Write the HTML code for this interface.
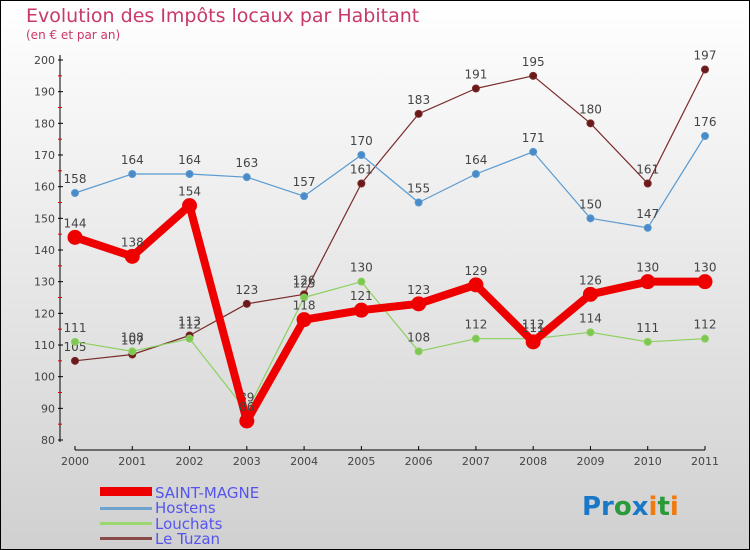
<!DOCTYPE html>
<html><head><meta charset="utf-8"><style>
body{margin:0}
svg{display:block;font-family:"DejaVu Sans","Liberation Sans",sans-serif}
</style></head><body>
<svg id="c" width="750" height="550" xmlns="http://www.w3.org/2000/svg">
<defs><linearGradient id="bg" x1="0" y1="0" x2="0" y2="1"><stop offset="0" stop-color="#ffffff"/><stop offset="1" stop-color="#d0d0d0"/></linearGradient></defs>
<rect x="0.5" y="0.5" width="749" height="549" fill="url(#bg)" stroke="#000"/>
<text x="26" y="22" font-size="19" fill="#c8386a">Evolution des Impôts locaux par Habitant</text>
<text x="26" y="39" font-size="12" fill="#c8386a">(en € et par an)</text>
<g id="axes"></g><g id="series"></g>
<g font-size="15" fill="#5555ee">
<rect x="100" y="487" width="52" height="9" fill="#e00"/>
<text x="155" y="498">SAINT-MAGNE</text>
<rect x="100" y="507" width="52" height="3" fill="#6fa3cf"/>
<text x="155" y="513">Hostens</text>
<rect x="100" y="522" width="52" height="3" fill="#9ad86e"/>
<text x="155" y="529">Louchats</text>
<rect x="100" y="537" width="52" height="3" fill="#8b4a4a"/>
<text x="155" y="544">Le Tuzan</text>
</g>
<text x="582" y="515" font-size="26" font-weight="bold"><tspan fill="#1a78c8">Pr</tspan><tspan fill="#2a9a3a">o</tspan><tspan fill="#1a78c8">x</tspan><tspan fill="#f07a10">i</tspan><tspan fill="#2a9a3a">t</tspan><tspan fill="#f07a10">i</tspan></text>
</svg>
<script>
const years=["2000","2001","2002","2003","2004","2005","2006","2007","2008","2009","2010","2011"];
const yTicks=[80,90,100,110,120,130,140,150,160,170,180,190,200];
const saintMagne=[144,138,154,86,118,121,123,129,111,126,130,130];
const hostens=[158,164,164,163,157,170,155,164,171,150,147,176];
const louchats=[111,108,112,89,125,130,108,112,112,114,111,112];
const leTuzan=[105,107,113,123,126,161,183,191,195,180,161,197];
const NS="http://www.w3.org/2000/svg";
const xS=i=>75+i*(630/11);
const yS=v=>440-(v-80)*380/120;
function mk(t,a,p){const e=document.createElementNS(NS,t);for(const k in a)e.setAttribute(k,a[k]);p.appendChild(e);return e;}
const ax=document.getElementById('axes');
let yl=mk('line',{x1:60,y1:55,x2:60,y2:442,stroke:'#000'},ax);


yTicks.forEach((v,i)=>{
 mk('line',{x1:58,x2:63,y1:yS(v),y2:yS(v),stroke:'#000'},ax);
 if(i<yTicks.length-1) mk('line',{x1:58,x2:62,y1:yS(v+5),y2:yS(v+5),stroke:'#d00'},ax);
 const t=mk('text',{x:55,y:yS(v)+4,'font-size':11,'text-anchor':'end',fill:'#444'},ax);t.textContent=v;
 
 
});
let xl=mk('line',{x1:75,y1:450,x2:705,y2:450,stroke:'#000'},ax);


years.forEach((y,i)=>{
 mk('line',{x1:xS(i),x2:xS(i),y1:446,y2:450,stroke:'#000'},ax);
 const t=mk('text',{x:xS(i),y:465,'font-size':11,'text-anchor':'middle',fill:'#444'},ax);t.textContent=y;
 
 
});
const sg=document.getElementById('series');
function draw(data,name,color,w,r,dot,labels){
 const g=mk('g',{},sg);
 
 
 mk('polyline',{points:data.map((v,i)=>xS(i)+','+yS(v)).join(' '),fill:'none',stroke:color,'stroke-width':w,'stroke-linejoin':'round'},g);
 data.forEach((v,i)=>{
  const c=mk('circle',{cx:xS(i),cy:yS(v),r:r,fill:dot,stroke:color,'stroke-width':1},g);
  
  
  if(labels){const t=mk('text',{x:xS(i),y:yS(v)-10,'font-size':12,'text-anchor':'middle',fill:'#444'},g);t.textContent=v;
  
  }
 });
}
draw(leTuzan,'le-tuzan','#7a2a2a',1.2,3.5,'#6a1a1a',true);
draw(louchats,'louchats','#8cd060',1.2,3.5,'#7cc850',true);
draw(hostens,'hostens','#5a9ad0',1.2,3.5,'#4a8ac8',true);
draw(saintMagne,'saint-magne','#ee0000',8,7,'#ee0000',true);
</script>
</body></html>
